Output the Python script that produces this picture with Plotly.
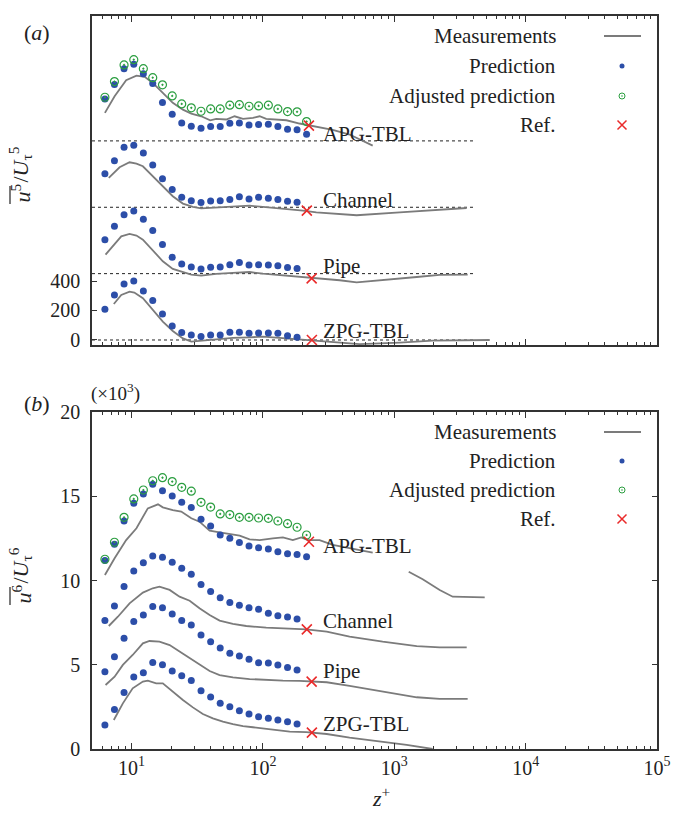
import math
import plotly.graph_objects as go

# ---------------- data ----------------
flows = ["ZPG-TBL", "Pipe", "Channel", "APG-TBL"]
offset_a = [0, 450, 900, 1350]        # panel (a) vertical shifts
offset_b = [0, 3, 6, 9]               # panel (b) vertical shifts (x10^3)

z_pred = [6.27, 7.41, 8.77, 10.4, 12.3, 14.5, 17.2, 20.4, 24.1, 28.5, 33.8,
          40.0, 47.3, 56.0, 66.2, 78.4, 92.7, 110, 130, 154, 182, 215]

z_ref = [236, 235, 216, 224]
ref5 = [0, -32, -23, 104]
ref6 = [0.97, 1.00, 1.10, 3.30]

# panel (a): u^5 / U_tau^5
pred5_zpg = [208, 305, 380, 400, 332, 267, 176, 95, 50, 34, 23, 34, 34, 52, 52, 45, 47, 47, 45, 29, 18]
pred5_pipe = [230, 321, 400, 425, 368, 292, 197, 111, 66, 45, 32, 43, 45, 61, 75, 59, 61, 59, 54, 41, 34]
pred5_chan = [228, 316, 407, 420, 368, 287, 194, 120, 68, 45, 32, 43, 45, 52, 72, 56, 68, 61, 52, 41, 34]
pred5_apg = [285, 382, 490, 520, 456, 389, 260, 181, 122, 99, 86, 97, 97, 120, 122, 108, 111, 113, 97, 79, 75, 45]
adj5_apg = [296, 402, 515, 551, 490, 429, 380, 305, 251, 224, 201, 217, 217, 242, 246, 235, 237, 242, 217, 199, 197, 131]

meas5_zpg_z = [7.33, 8.35, 9.66, 10.5, 12.2, 14.5, 17.3, 20.6, 24.6, 28.5, 33.9, 44.1, 59.1, 79.2, 100, 126, 160, 202, 255, 384, 545, 1100, 1960, 5330]
meas5_zpg = [244, 305, 328, 322, 283, 204, 125, 61, 11, -11, -5, 5, 14, 18, 23, 16, 9, 0, -8, -20, -28, -18, -5, 0]
meas5_pipe_z = [6.34, 7.21, 8.35, 9.66, 10.9, 12.2, 14.5, 17.3, 20.6, 24.6, 28.5, 33.9, 44.1, 59.1, 79.2, 100, 126, 160, 214, 287, 384, 517, 816, 1482, 2217, 3620]
meas5_pipe = [129, 190, 253, 269, 258, 230, 158, 84, 32, 9, -7, -14, -2, 5, 11, 0, -7, -14, -25, -36, -45, -59, -45, -23, -9, -7]
meas5_chan_z = [6.71, 8.11, 9.66, 10.9, 12.2, 14.5, 17.3, 20.6, 24.6, 29.3, 33.9, 44.1, 59.1, 79.2, 100, 126, 160, 202, 255, 384, 517, 1100, 2217, 3560]
meas5_chan = [199, 271, 305, 296, 278, 210, 138, 75, 25, 2, -7, 0, 7, 11, 2, -5, -11, -23, -35, -45, -54, -34, -16, -5]
meas5_apg_z = [6.27, 7.43, 9.10, 10.9, 12.6, 14.5, 17.3, 20.6, 24.6, 28.5, 33.9, 39.7, 44.1, 52.6, 60.9, 70.5, 84.0, 94.4, 106, 126, 151, 190, 227, 270, 340, 457, 685]
meas5_apg = [190, 303, 411, 443, 434, 393, 325, 258, 212, 185, 167, 140, 149, 145, 167, 149, 156, 167, 149, 145, 140, 118, 104, 95, 75, 43, -32]

# panel (b): u^6 / U_tau^6  (x10^3)
pred6_zpg = [1.42, 2.35, 3.36, 4.27, 4.53, 5.14, 5.00, 4.63, 4.35, 4.07, 3.46, 3.09, 2.71, 2.51, 2.27, 2.08, 1.92, 1.82, 1.72, 1.62, 1.48]
pred6_pipe = [1.59, 2.48, 3.57, 4.56, 4.95, 5.45, 5.39, 5.01, 4.62, 4.36, 3.77, 3.37, 2.99, 2.68, 2.52, 2.32, 2.12, 2.10, 1.99, 1.83, 1.69]
pred6_chan = [1.62, 2.49, 3.64, 4.57, 5.06, 5.46, 5.38, 5.08, 4.72, 4.37, 3.77, 3.34, 2.98, 2.69, 2.53, 2.39, 2.29, 2.05, 1.91, 1.83, 1.71]
pred6_apg = [2.18, 3.15, 4.53, 5.58, 6.13, 6.71, 6.33, 6.02, 5.64, 5.33, 4.63, 4.24, 3.70, 3.50, 3.25, 3.05, 2.95, 2.87, 2.71, 2.59, 2.55, 2.41]
adj6_apg = [2.26, 3.27, 4.75, 5.84, 6.37, 6.92, 7.10, 6.87, 6.53, 6.30, 5.64, 5.36, 4.95, 4.91, 4.75, 4.75, 4.71, 4.69, 4.53, 4.37, 4.16, 3.70]

meas6_zpg_z = [7.33, 8.59, 10.2, 12.2, 13.3, 15.4, 17.3, 20.6, 24.6, 29.3, 34.9, 41.6, 49.6, 59.1, 70.5, 84.0, 100, 126, 160, 214, 306, 457, 816, 1242, 1960]
meas6_zpg = [1.72, 2.71, 3.60, 4.00, 4.06, 3.90, 3.90, 3.40, 2.91, 2.47, 2.08, 1.82, 1.62, 1.48, 1.36, 1.29, 1.23, 1.13, 1.03, 1.00, 0.89, 0.67, 0.44, 0.24, 0.0]
meas6_pipe_z = [6.34, 7.43, 8.59, 10.2, 12.2, 13.7, 16.3, 19.5, 23.2, 27.7, 32.9, 39.3, 46.8, 59.1, 79.2, 106, 142, 190, 239, 306, 457, 816, 1482, 2217, 3620]
meas6_pipe = [0.80, 1.29, 1.99, 2.58, 3.27, 3.41, 3.37, 3.17, 2.78, 2.38, 1.99, 1.63, 1.39, 1.25, 1.15, 1.09, 1.06, 1.04, 1.00, 0.96, 0.74, 0.40, 0.07, -0.03, -0.03]
meas6_chan_z = [6.71, 7.87, 9.66, 12.2, 14.5, 16.3, 19.5, 23.2, 27.7, 32.9, 39.3, 46.8, 59.1, 74.7, 106, 151, 214, 306, 457, 816, 1482, 2217, 3560]
meas6_chan = [1.30, 1.85, 2.64, 3.28, 3.54, 3.63, 3.44, 3.04, 2.80, 2.35, 1.95, 1.62, 1.42, 1.30, 1.20, 1.16, 1.10, 0.96, 0.67, 0.37, 0.11, 0.03, 0.03]
meas6_apg_z = [6.27, 7.43, 9.10, 10.9, 13.3, 15.9, 17.3, 20.6, 23.9, 28.5, 32.9, 39.3, 46.8, 55.7, 66.5, 79.2, 94.4, 119, 142, 169, 196, 220, 270, 340, 457, 685, None, 1288, 1646, 2217, 2784, 4880]
meas6_apg = [1.33, 2.32, 3.40, 4.10, 5.28, 5.52, 5.34, 5.18, 5.09, 4.69, 4.49, 3.96, 3.86, 3.76, 3.66, 3.44, 3.40, 3.50, 3.56, 3.40, 3.56, 3.40, 3.40, 3.11, 2.91, 2.65, None, 1.52, 1.07, 0.44, 0.04, 0.00]

baseline_z = [5, 4000]
x_tickvals = [10, 100, 1000, 10000, 100000]
x_ticktext = ["10<sup>1</sup>", "10<sup>2</sup>", "10<sup>3</sup>", "10<sup>4</sup>", "10<sup>5</sup>"]
legend_labels = ["Measurements", "Prediction", "Adjusted prediction", "Ref."]

# ---------------- layout helpers ----------------
W, H = 675, 822
FONT = "Liberation Serif"
GRAY = "#7b7b7b"
BLUE = "#2c4ea8"
GREEN = "#2b9e40"
RED = "#ea2a2a"
AXC = "#333333"
TXT = "#222222"


def px(x):
    return x / W


def py(y):
    return 1 - y / H


L, R = 92, 657
A_T, A_B = 16, 345
B_T, B_B = 412, 749

fig = go.Figure()


def shift(vals, off):
    return [None if v is None else v + off for v in vals]


def add_panel(xa, ya, offsets, meas, preds, adj, refs, baselines):
    if baselines:
        for off in offsets:
            fig.add_trace(go.Scatter(x=baseline_z, y=[off, off], mode="lines", xaxis=xa, yaxis=ya,
                                     line=dict(color="#222222", width=1, dash="dot"), hoverinfo="skip"))
    for (zz, vv), off in zip(meas, offsets):
        fig.add_trace(go.Scatter(x=zz, y=shift(vv, off), mode="lines", xaxis=xa, yaxis=ya,
                                 line=dict(color=GRAY, width=1.8), connectgaps=False))
    for vv, off in zip(preds, offsets):
        fig.add_trace(go.Scatter(x=z_pred[:len(vv)], y=shift(vv, off), mode="markers", xaxis=xa, yaxis=ya,
                                 marker=dict(color=BLUE, size=7, symbol="circle")))
    fig.add_trace(go.Scatter(x=z_pred[:len(adj)], y=shift(adj, offsets[3]), mode="markers", xaxis=xa, yaxis=ya,
                             marker=dict(color=GREEN, size=8, symbol="circle-open-dot",
                                         line=dict(width=1.2, color=GREEN))))
    fig.add_trace(go.Scatter(x=z_ref, y=[r + o for r, o in zip(refs, offsets)], mode="markers", xaxis=xa, yaxis=ya,
                             marker=dict(color=RED, size=10, symbol="x-thin-open", line=dict(width=1.6, color=RED))))


add_panel("x", "y", offset_a,
          [(meas5_zpg_z, meas5_zpg), (meas5_pipe_z, meas5_pipe), (meas5_chan_z, meas5_chan), (meas5_apg_z, meas5_apg)],
          [pred5_zpg, pred5_pipe, pred5_chan, pred5_apg], adj5_apg, ref5, True)
add_panel("x2", "y2", offset_b,
          [(meas6_zpg_z, meas6_zpg), (meas6_pipe_z, meas6_pipe), (meas6_chan_z, meas6_chan), (meas6_apg_z, meas6_apg)],
          [pred6_zpg, pred6_pipe, pred6_chan, pred6_apg], adj6_apg, ref6, False)

# legend samples drawn on a pixel-space overlay axis
leg_rows = {"a": [36, 66, 96, 125], "b": [432, 461, 490, 519]}
LEG_TXT_R = 558
for rows in leg_rows.values():
    fig.add_trace(go.Scatter(x=[604, 641], y=[rows[0], rows[0]], mode="lines", xaxis="x3", yaxis="y3",
                             line=dict(color=GRAY, width=1.8)))
    fig.add_trace(go.Scatter(x=[622], y=[rows[1]], mode="markers", xaxis="x3", yaxis="y3",
                             marker=dict(color=BLUE, size=5)))
    fig.add_trace(go.Scatter(x=[622], y=[rows[2]], mode="markers", xaxis="x3", yaxis="y3",
                             marker=dict(color=GREEN, size=6, symbol="circle-open-dot", line=dict(width=1, color=GREEN))))
    fig.add_trace(go.Scatter(x=[622], y=[rows[3]], mode="markers", xaxis="x3", yaxis="y3",
                             marker=dict(color=RED, size=9, symbol="x-thin-open", line=dict(width=1.5, color=RED))))

annotations = []
for rows in leg_rows.values():
    for lab, yy in zip(legend_labels, rows):
        annotations.append(dict(text=lab, x=px(LEG_TXT_R), y=py(yy), xref="paper", yref="paper",
                                xanchor="right", yanchor="middle", showarrow=False,
                                font=dict(size=21, family=FONT, color=TXT)))

label_y = {"a": [331.5, 266.5, 199.5, 134], "b": [723.5, 671, 620.5, 545.5]}
for ys in label_y.values():
    for lab, yy in zip(flows, ys):
        annotations.append(dict(text=lab, x=px(321), y=py(yy), xref="paper", yref="paper",
                                xanchor="left", yanchor="middle", showarrow=False,
                                font=dict(size=21, family=FONT, color=TXT)))

annotations += [
    dict(text="(<i>a</i>)", x=px(22), y=py(18), xref="paper", yref="paper", showarrow=False,
         font=dict(size=22, family=FONT, color=TXT)),
    dict(text="(<i>b</i>)", x=px(22), y=py(403), xref="paper", yref="paper", showarrow=False,
         font=dict(size=22, family=FONT, color=TXT)),
    dict(text="(×10<sup>3</sup>)", x=px(89), y=py(392), xref="paper", yref="paper", xanchor="left",
         showarrow=False, font=dict(size=19, family=FONT, color=TXT)),
    dict(text="<i>z</i><sup>+</sup>", x=px(381), y=py(813), xref="paper", yref="paper", showarrow=False,
         font=dict(size=22, family=FONT, color=TXT)),
]

# y-axis titles: overlined moment part and the normalisation part as two rotated texts
ytitles = [("5", 205, 150), ("6", 606, 550)]   # (moment order, bottom px, top px)
shapes = []
for order, ybot, ytop in ytitles:
    split = ybot - 20
    annotations.append(dict(text="<i>u</i><sup>%s</sup>" % order, x=px(37), y=py(ybot), xref="paper",
                            yref="paper", textangle=-90, xanchor="right", yanchor="bottom",
                            showarrow=False, font=dict(size=22, family=FONT, color=TXT)))
    annotations.append(dict(text="/<i>U</i><sub>τ</sub><sup>%s</sup>" % order, x=px(37), y=py(split),
                            xref="paper", yref="paper", textangle=-90, xanchor="right", yanchor="bottom",
                            showarrow=False, font=dict(size=22, family=FONT, color=TXT)))
    shapes.append(dict(type="line", xref="paper", yref="paper", x0=px(10), x1=px(10),
                       y0=py(ybot - 1), y1=py(split + 1), line=dict(color=TXT, width=1.2)))

minor_vals = [k * 10 ** n for n in range(0, 5) for k in range(2, 10) if k * 10 ** n >= 5]
xcommon = dict(type="log", range=[math.log10(5), 5], showgrid=False, zeroline=False, automargin=False,
               showline=True, linecolor=AXC, linewidth=1.5, mirror="ticks",
               ticks="inside", ticklen=6, tickwidth=1, tickcolor=AXC,
               tickmode="array", tickvals=x_tickvals, ticktext=x_ticktext,
               minor=dict(ticks="inside", ticklen=3, tickwidth=1, tickcolor=AXC,
                          tickmode="array", tickvals=minor_vals, showgrid=False),
               tickfont=dict(size=20, family=FONT, color=TXT))
ycommon = dict(showgrid=False, zeroline=False, showline=True, linecolor=AXC, linewidth=1.5, automargin=False,
               ticks="inside", ticklen=5, tickwidth=1, tickcolor=AXC, ticklabelstandoff=6,
               tickfont=dict(size=20, family=FONT, color=TXT))

fig.update_layout(
    template="none",
    width=W, height=H, margin=dict(l=0, r=0, t=0, b=0, pad=0),
    paper_bgcolor="white", plot_bgcolor="rgba(0,0,0,0)", showlegend=False,
    xaxis=dict(xcommon, domain=[px(L), px(R)], anchor="y", showticklabels=False),
    yaxis=dict(ycommon, domain=[py(A_B), py(A_T)], anchor="x", range=[-34, 2197],
               tickmode="array", tickvals=[0, 200, 400], mirror=True),
    xaxis2=dict(xcommon, domain=[px(L), px(R)], anchor="y2"),
    yaxis2=dict(ycommon, domain=[py(B_B), py(B_T)], anchor="x2", range=[0, 20],
                tickmode="array", tickvals=[0, 5, 10, 15, 20], mirror="ticks"),
    xaxis3=dict(domain=[0, 1], range=[0, W], visible=False, anchor="y3", fixedrange=True, automargin=False),
    yaxis3=dict(domain=[0, 1], range=[H, 0], visible=False, anchor="x3", fixedrange=True, automargin=False),
    annotations=annotations, shapes=shapes,
)

fig.write_html("out.html")
